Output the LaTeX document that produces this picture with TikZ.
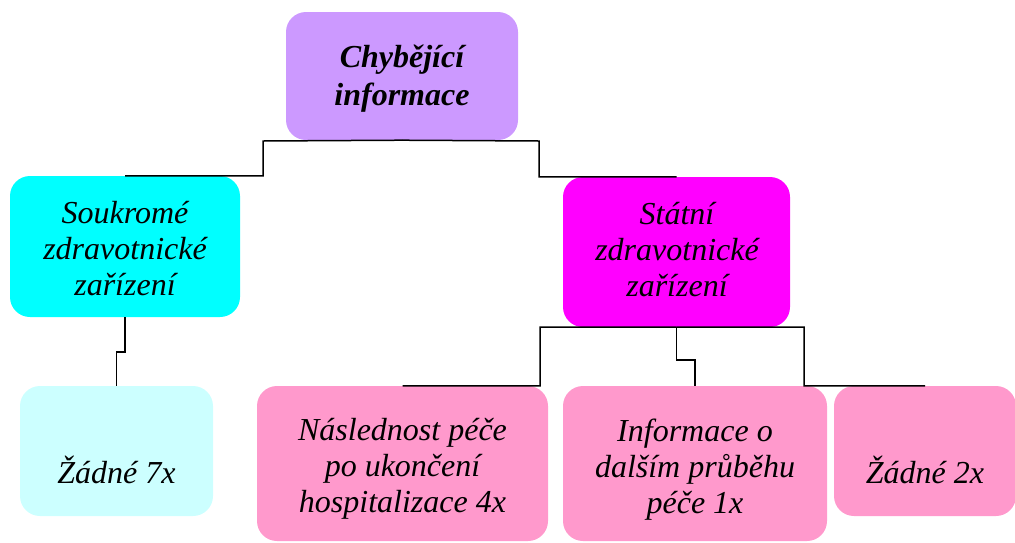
\documentclass[tikz,border=0pt]{standalone}
\usepackage{fontspec}
\setmainfont{Liberation Serif}
\begin{document}
\begin{tikzpicture}[x=1pt,y=-1pt,
  box/.style={rectangle,rounded corners=20pt,inner sep=0pt,draw=none},
  txt/.style={align=center,inner sep=0pt,font=\fontsize{32}{36}\selectfont\itshape},
  conn/.style={draw=black,line width=1.5pt}]
\definecolor{lila}{HTML}{CC99FF}
\definecolor{azur}{HTML}{00FFFF}
\definecolor{purpur}{HTML}{FF00FF}
\definecolor{svetlemodra}{HTML}{CCFFFF}
\definecolor{ruzova}{HTML}{FF99CC}
\useasboundingbox (0,0) rectangle (1015,542);

% boxes
\node[box,fill=lila,minimum width=232pt,minimum height=128pt] (top) at (402,76) {};
\node[box,fill=azur,minimum width=230pt,minimum height=141pt] (sk) at (125,246.5) {};
\node[box,fill=purpur,minimum width=227pt,minimum height=150pt] (st) at (676.5,252) {};
\node[box,fill=svetlemodra,minimum width=193pt,minimum height=130pt] (z7) at (116.5,451) {};
\node[box,fill=ruzova,minimum width=291pt,minimum height=155pt] (n1) at (402.5,463.5) {};
\node[box,fill=ruzova,minimum width=264pt,minimum height=155pt] (n2) at (695,463.5) {};
\node[box,fill=ruzova,minimum width=182pt,minimum height=130pt] (z2) at (925,451) {};

% elbow points of the connectors
\coordinate (jl) at (263,141);
\coordinate (jr) at (539,141);
\coordinate (js) at (116.5,352);
\coordinate (ml) at (540,327);
\coordinate (mr) at (804,327);
\coordinate (mm) at (695,360);

% connectors
\draw[conn] (top.south) -- (jl) |- (sk.north);
\draw[conn] (top.south) -- (jr) |- (st.north);
\draw[conn] (sk.south) |- (js) -- (z7.north);
\draw[conn] (st.south) -- (ml) |- (n1.north);
\draw[conn] (st.south) -- (mr) |- (z2.north);
\draw[conn] (st.south) |- (mm) -- (n2.north);

% labels
\node[txt,font=\fontsize{32}{38}\selectfont\bfseries\itshape] (ttop) at (402,79) {Chybějící\\informace};
\node[txt] (tsk) at (125,249) {Soukromé\\zdravotnické\\zařízení};
\node[txt] (tst) at (677,250) {Státní\\zdravotnické\\zařízení};
\node[txt] (tz7) at (116.5,470) {Žádné 7x};
\node[txt] (tn1) at (402.5,469) {Následnost péče\\po ukončení\\hospitalizace 4x};
\node[txt] (tn2) at (695,470) {Informace o\\dalším průběhu\\péče 1x};
\node[txt] (tz2) at (925,470) {Žádné 2x};
\end{tikzpicture}
\end{document}
